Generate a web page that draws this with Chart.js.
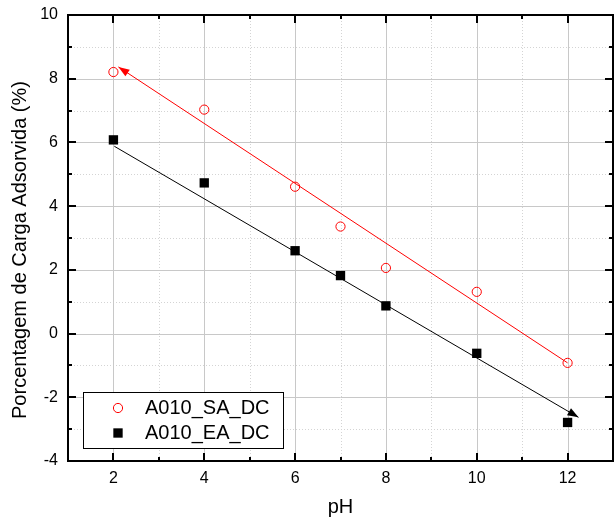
<!DOCTYPE html>
<html>
<head>
<meta charset="utf-8">
<script src="https://cdn.jsdelivr.net/npm/chart.js@4.4.1/dist/chart.umd.min.js"></script>
<style>
  html, body { margin: 0; padding: 0; background: #fff; }
</style>
</head>
<body>
<canvas id="myChart" width="615" height="518"></canvas>
<script>
'use strict';

// measured points
const phValues = [2, 4, 6, 7, 8, 10, 12];
const saValues = [8.21, 7.03, 4.61, 3.36, 2.06, 1.31, -0.92];
const eaValues = [6.08, 4.73, 2.60, 1.82, 0.87, -0.62, -2.79];

// fitted lines (end points)
const saFitX = [2.11, 12.0];
const saFitY = [8.37, -0.92];
const eaFitX = [2.02, 12.24];
const eaFitY = [5.88, -2.63];

// axes
const xTicks = [2, 4, 6, 8, 10, 12];
const xMinor = [3, 5, 7, 9, 11];
const yTicks = [-4, -2, 0, 2, 4, 6, 8, 10];
const yMinor = [-3, -1, 1, 3, 5, 7, 9];

const seriesNames = ['A010_SA_DC', 'A010_EA_DC'];
const yTitle = 'Porcentagem de Carga Adsorvida (%)';

const FONT = "'Liberation Sans', Arial, sans-serif";
Chart.defaults.font.family = FONT;
Chart.defaults.color = '#000';

function pts(xs, ys) {
    return xs.map((x, i) => ({ x: x, y: ys[i] }));
}

// grid: solid major lines, dotted minor lines
const gridPlugin = {
    id: 'originGrid',
    beforeDatasetsDraw(chart) {
        const { ctx, chartArea: a, scales: { x, y } } = chart;
        ctx.save();
        ctx.lineWidth = 1;
        ctx.strokeStyle = '#d4d4d4';
        ctx.setLineDash([1, 2]);
        xMinor.forEach(v => {
            const px = Math.round(x.getPixelForValue(v)) + 0.5;
            ctx.beginPath(); ctx.moveTo(px, a.top); ctx.lineTo(px, a.bottom); ctx.stroke();
        });
        yMinor.forEach(v => {
            const py = Math.round(y.getPixelForValue(v)) + 0.5;
            ctx.beginPath(); ctx.moveTo(a.left, py); ctx.lineTo(a.right, py); ctx.stroke();
        });
        ctx.setLineDash([]);
        ctx.strokeStyle = '#c8c8c8';
        xTicks.forEach(v => {
            const px = Math.round(x.getPixelForValue(v)) + 0.5;
            ctx.beginPath(); ctx.moveTo(px, a.top); ctx.lineTo(px, a.bottom); ctx.stroke();
        });
        yTicks.forEach(v => {
            const py = Math.round(y.getPixelForValue(v)) + 0.5;
            ctx.beginPath(); ctx.moveTo(a.left, py); ctx.lineTo(a.right, py); ctx.stroke();
        });
        ctx.restore();
    }
};

// arrow heads on the fit lines
function arrowHead(ctx, tip, from, color) {
    const ang = Math.atan2(tip.y - from.y, tip.x - from.x);
    const len = 11, half = 4;
    ctx.save();
    ctx.translate(tip.x, tip.y);
    ctx.rotate(ang);
    ctx.fillStyle = color;
    ctx.beginPath();
    ctx.moveTo(0, 0);
    ctx.lineTo(-len, -half);
    ctx.lineTo(-len, half);
    ctx.closePath();
    ctx.fill();
    ctx.restore();
}

// box with inward ticks on all four sides, arrows, legend and y title
const framePlugin = {
    id: 'originFrame',
    afterDatasetsDraw(chart) {
        const { ctx, chartArea: a, scales: { x, y } } = chart;

        const red = chart.getDatasetMeta(2).data;
        arrowHead(ctx, red[0], red[1], '#ff0000');
        const blk = chart.getDatasetMeta(3).data;
        arrowHead(ctx, blk[1], blk[0], '#000000');

        ctx.save();
        ctx.strokeStyle = '#000';
        ctx.lineWidth = 2;
        ctx.strokeRect(a.left, a.top, a.right - a.left, a.bottom - a.top);

        const tick = (vals, len) => {
            vals.forEach(v => {
                const px = Math.round(x.getPixelForValue(v));
                ctx.beginPath();
                ctx.moveTo(px, a.bottom); ctx.lineTo(px, a.bottom - len);
                ctx.moveTo(px, a.top); ctx.lineTo(px, a.top + len);
                ctx.stroke();
            });
        };
        const ytick = (vals, len) => {
            vals.forEach(v => {
                const py = Math.round(y.getPixelForValue(v));
                ctx.beginPath();
                ctx.moveTo(a.left, py); ctx.lineTo(a.left + len, py);
                ctx.moveTo(a.right, py); ctx.lineTo(a.right - len, py);
                ctx.stroke();
            });
        };
        tick(xTicks, 8);
        tick(xMinor, 4);
        ytick(yTicks, 8);
        ytick(yMinor, 4);

        // legend
        const lx = 83, ly = 392, lw = 200, lh = 56;
        ctx.fillStyle = '#fff';
        ctx.fillRect(lx, ly, lw, lh);
        ctx.lineWidth = 1;
        ctx.strokeRect(lx + 0.5, ly + 0.5, lw, lh);
        ctx.font = '20px ' + FONT;
        ctx.textBaseline = 'middle';
        ctx.textAlign = 'left';
        [0, 1].forEach(i => {
            const ds = chart.data.datasets[i];
            const cy = ly + 16 + i * 25;
            ctx.strokeStyle = ds.borderColor;
            ctx.fillStyle = ds.backgroundColor;
            ctx.lineWidth = ds.borderWidth;
            ctx.beginPath();
            if (ds.pointStyle === 'circle') {
                ctx.arc(lx + 35, cy, ds.pointRadius, 0, Math.PI * 2);
                ctx.stroke();
            } else {
                const s = ds.pointRadius * Math.SQRT1_2;
                ctx.fillRect(lx + 35 - s, cy - s, 2 * s, 2 * s);
            }
            ctx.fillStyle = '#000';
            ctx.fillText(ds.label, lx + 62, cy);
        });

        // y axis title
        ctx.translate(20, 250);
        ctx.rotate(-Math.PI / 2);
        ctx.textAlign = 'center';
        ctx.fillStyle = '#000';
        ctx.fillText(yTitle, 0, 0);
        ctx.restore();
    }
};

const ctx = document.getElementById('myChart').getContext('2d');

const myChart = new Chart(ctx, {
    type: 'scatter',
    data: {
        datasets: [{
            label: seriesNames[0],
            data: pts(phValues, saValues),
            pointStyle: 'circle',
            pointRadius: 4.6,
            borderWidth: 1,
            borderColor: '#ff0000',
            backgroundColor: 'rgba(0,0,0,0)',
            pointHoverRadius: 4.6
        }, {
            label: seriesNames[1],
            data: pts(phValues, eaValues),
            pointStyle: 'rect',
            pointRadius: 6.6,
            borderWidth: 0,
            borderColor: '#000',
            backgroundColor: '#000',
            pointHoverRadius: 6.6
        }, {
            label: 'fit SA',
            data: pts(saFitX, saFitY),
            showLine: true,
            pointRadius: 0,
            borderWidth: 1,
            borderColor: '#ff0000'
        }, {
            label: 'fit EA',
            data: pts(eaFitX, eaFitY),
            showLine: true,
            pointRadius: 0,
            borderWidth: 1,
            borderColor: '#000'
        }]
    },
    plugins: [gridPlugin, framePlugin],
    options: {
        responsive: false,
        animation: false,
        layout: {
            autoPadding: false,
            padding: { top: 15, right: 2, left: 0, bottom: 0 }
        },
        plugins: {
            legend: { display: false },
            tooltip: { enabled: false }
        },
        scales: {
            x: {
                type: 'linear',
                min: 1,
                max: 13,
                grid: { display: false, drawTicks: false },
                border: { display: false },
                afterBuildTicks: (scale) => {
                    scale.ticks = xTicks.map(v => ({ value: v }));
                },
                afterFit: (scale) => {
                    scale.height = 57;
                    scale.paddingLeft = 0;
                    scale.paddingRight = 0;
                },
                ticks: {
                    padding: 8,
                    maxRotation: 0,
                    font: { size: 16 }
                },
                title: {
                    display: true,
                    text: 'pH',
                    font: { size: 20, lineHeight: 1.1 },
                    padding: { top: 0, bottom: 0 }
                }
            },
            y: {
                type: 'linear',
                min: -4,
                max: 10,
                grid: { display: false, drawTicks: false },
                border: { display: false },
                afterBuildTicks: (scale) => {
                    scale.ticks = yTicks.map(v => ({ value: v }));
                },
                afterFit: (scale) => {
                    scale.width = 68;
                    scale.paddingTop = 0;
                    scale.paddingBottom = 0;
                },
                ticks: {
                    padding: 10,
                    font: { size: 16 }
                }
            }
        }
    }
});
</script>
</body>
</html>
